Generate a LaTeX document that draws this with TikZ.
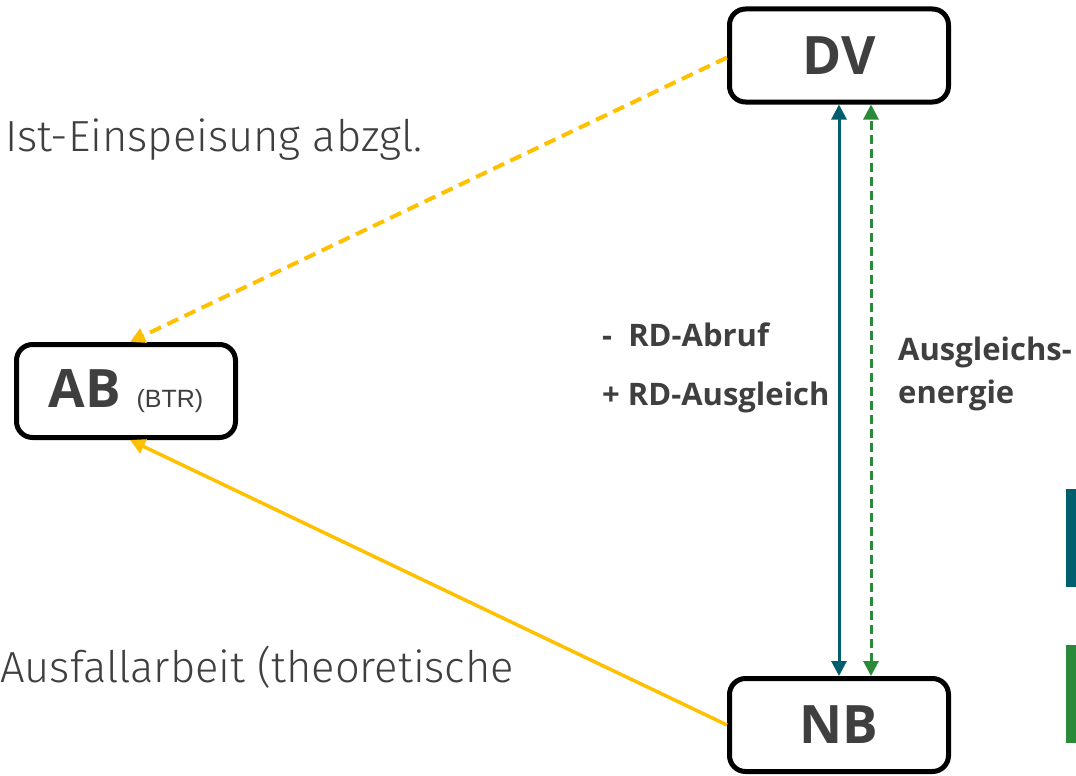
\documentclass[tikz,border=0pt]{standalone}
\usepackage{fontspec}
\setmainfont{Open Sans}
\newfontfamily\lightfont{Fira Sans Light}
\newfontfamily\arialfont{Liberation Sans}
\usetikzlibrary{arrows.meta,calc}
\definecolor{txt}{HTML}{3F3F3F}
\definecolor{teal}{HTML}{005F6E}
\definecolor{grn}{HTML}{2A8A3A}
\definecolor{yel}{HTML}{FFC000}
\tikzset{
  box/.style={draw=black, line width=5pt, rounded corners=16pt, fill=white,
    minimum width=219pt, minimum height=93pt, text=txt, inner sep=0pt,
    font=\fontsize{53}{60}\selectfont\bfseries},
  lbl/.style={text=txt, anchor=base west, inner sep=0pt, font=\fontsize{31}{36}\selectfont\bfseries},
  big/.style={text=txt, anchor=base west, inner sep=0pt, font=\lightfont\fontsize{43.5}{50}\selectfont},
  tip/.style={-{Triangle[length=15pt,width=15pt]}},
  dtip/.style={{Triangle[length=15pt,width=15pt]}-{Triangle[length=15pt,width=15pt]}},
}
\begin{document}
\begin{tikzpicture}[x=1pt,y=-1pt]
\useasboundingbox (0,0) rectangle (1076,776);
\node[box] (DV) at (839,55.5) {DV};
\node[box] (AB) at (126,391) {AB\,{\arialfont\mdseries\fontsize{25}{28}\selectfont\ (BTR)}};
\node[box] (NB) at (839,725) {NB};
\coordinate (ABtop) at ($(AB.north)+(4,0)$);
\coordinate (ABbot) at ($(AB.south)+(4,0)$);
\draw[yel, line width=4pt, dash pattern=on 12pt off 7pt, tip] ($(DV.west)+(0,2)$) -- (ABtop);
\draw[yel, line width=3.5pt, tip] (NB.west) -- (ABbot);
\draw[teal, line width=3pt, dtip] (NB.north) -- (DV.south);
\draw[grn, line width=3pt, dash pattern=on 9pt off 5pt, dtip] ($(NB.north)+(32,0)$) -- ($(DV.south)+(32,0)$);
\node[lbl] (l1) at (602,346) {-\ \ RD-Abruf};
\node[lbl] (l2) at (602,405) {+ RD-Ausgleich};
\node[lbl] (l3) at (898,360) {Ausgleichs-};
\node[lbl] (l4) at (898,403) {energie};
\node[big] (t1) at (5,151) {Ist-Einspeisung abzgl.};
\node[big] (t2) at (0,682) {Ausfallarbeit (theoretische};
\fill[teal] (1066,489) rectangle (1076,587);
\fill[grn] (1066,645) rectangle (1076,743);
\end{tikzpicture}
\end{document}
